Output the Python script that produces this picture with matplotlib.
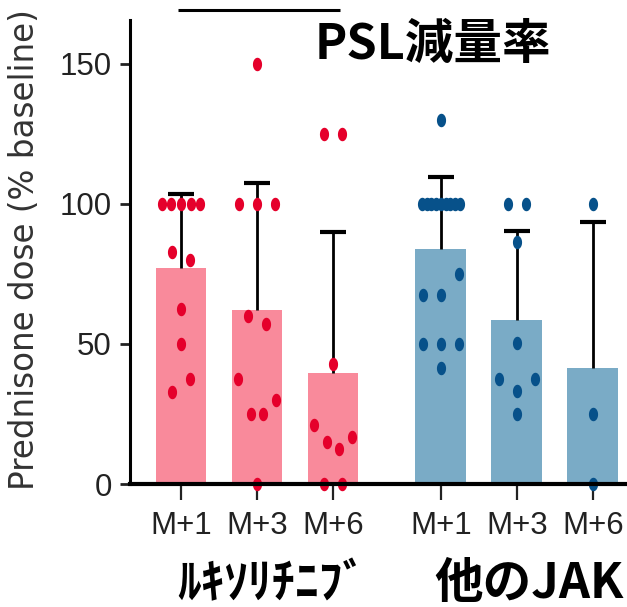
import numpy as np
import matplotlib
matplotlib.use('Agg')
import matplotlib.pyplot as plt
from matplotlib.path import Path

# group means and upper SD of prednisone dose (% of baseline)
months = ['M+1', 'M+3', 'M+6']
rux_mean = [77, 62, 39.5]
rux_sd = [26.5, 45.5, 50.5]
jak_mean = [84, 58.5, 41.5]
jak_sd = [25.5, 32, 52]

# individual patients, per time point
rux_pts = [
    [100, 100, 100, 100, 100, 83, 80, 62.5, 50, 33, 37.5],
    [150, 100, 100, 100, 60, 57, 37.5, 25, 25, 30, 0],
    [125, 125, 42.8, 21, 15, 12.5, 16.8, 0, 0],
]
jak_pts = [
    [130, 100, 100, 100, 100, 100, 100, 100, 100, 100, 67.5, 67.5, 75, 50, 41.6, 50, 50],
    [100, 100, 86.4, 50.4, 37.5, 33.2, 37.5, 25],
    [100, 25, 0],
]

title = 'PSL減量率'
group_names = ['ﾙｷｿﾘﾁﾆﾌﾞ', '他のJAK']
ylabel = 'Prednisone dose (% baseline)'

pink, red = '#f98a9b', '#e5002b'
lblue, dblue = '#7aabc6', '#07518a'

pos = np.r_[np.arange(3), np.arange(3) + 3.42]


def swarm(vals, gap=8, step=0.237, span=0.5):
    # spread points of similar value sideways, rows centred on the bar
    order = sorted(range(len(vals)), key=lambda i: -vals[i])
    rows, cur = [], [order[0]]
    for a, b in zip(order, order[1:]):
        if vals[a] - vals[b] <= gap:
            cur.append(b)
        else:
            rows.append(cur)
            cur = [b]
    rows.append(cur)
    off = np.zeros(len(vals))
    for r in rows:
        r = sorted(r)
        n = len(r)
        if n > 1:
            s = min(step, span / (n - 1))
            for k, i in enumerate(r):
                off[i] = (k - (n - 1) / 2) * s
    return off


# slightly tall dots
t = np.linspace(0, 2 * np.pi, 60)
dot = Path(np.c_[0.34 * np.cos(t), 0.5 * np.sin(t)], closed=True)

fig = plt.figure(figsize=(6.27, 6.07), dpi=100)
ax = fig.add_axes([130 / 627, 123 / 607, 497 / 627, 464 / 607])

means = np.array(rux_mean + jak_mean)
tops = means + np.array(rux_sd + jak_sd)
ax.bar(pos, means, width=0.67, color=[pink] * 3 + [lblue] * 3, zorder=1)
# upper error bars only
ax.vlines(pos, means, tops, color='black', lw=2, zorder=2)
ax.plot(pos, tops, linestyle='none', marker='_', markersize=19,
        markeredgewidth=3, color='black', zorder=2)

for x, vals, c in zip(pos, rux_pts + jak_pts, [red] * 3 + [dblue] * 3):
    vals = np.array(vals, dtype=float)
    ax.plot(x + swarm(list(vals)), vals, linestyle='none', marker=dot,
            markersize=9.7, color=c, markeredgewidth=0, clip_on=False, zorder=3)

# bracket over the ruxolitinib group
ax.plot([pos[0] - 0.04, pos[2] + 0.09], [169.3, 169.3], color='black', lw=2.2,
        clip_on=False, solid_capstyle='butt')

ax.set_xlim(-0.671, 5.868)
ax.set_ylim(0, 165.7)
ax.set_yticks([0, 50, 100, 150])
ax.set_xticks(pos)
ax.set_xticklabels(months * 2)

for s in ['top', 'right']:
    ax.spines[s].set_visible(False)
ax.spines['left'].set_linewidth(2.2)
ax.spines['bottom'].set_linewidth(3)
ax.spines['bottom'].set_zorder(4)

tickfont = ['Liberation Sans Narrow', 'Liberation Sans', 'DejaVu Sans']
ax.tick_params(axis='y', length=7, width=2, pad=6, colors='#222222')
ax.tick_params(axis='x', length=11.5, width=1.6, pad=8, colors='#222222')
for lab in ax.get_xticklabels() + ax.get_yticklabels():
    lab.set_family(tickfont)
    lab.set_fontsize(22.5)

ax.set_ylabel(ylabel, fontsize=23.5, color='#333333', family='DejaVu Sans')
ax.yaxis.set_label_coords(-0.18, 0.505)

jp = ['Noto Sans CJK JP', 'DejaVu Sans']
fig.text(433 / 627, 1 - 44 / 607, title, family=jp, weight='bold', fontsize=35,
         ha='center', va='center')
fig.text(272 / 627, 1 - 584 / 607, group_names[0], family=jp, weight='bold',
         fontsize=34, ha='center', va='center')
fig.text(529 / 627, 1 - 583 / 607, group_names[1], family=jp, weight='bold',
         fontsize=35, ha='center', va='center')

fig.savefig('out.png', dpi=100)
